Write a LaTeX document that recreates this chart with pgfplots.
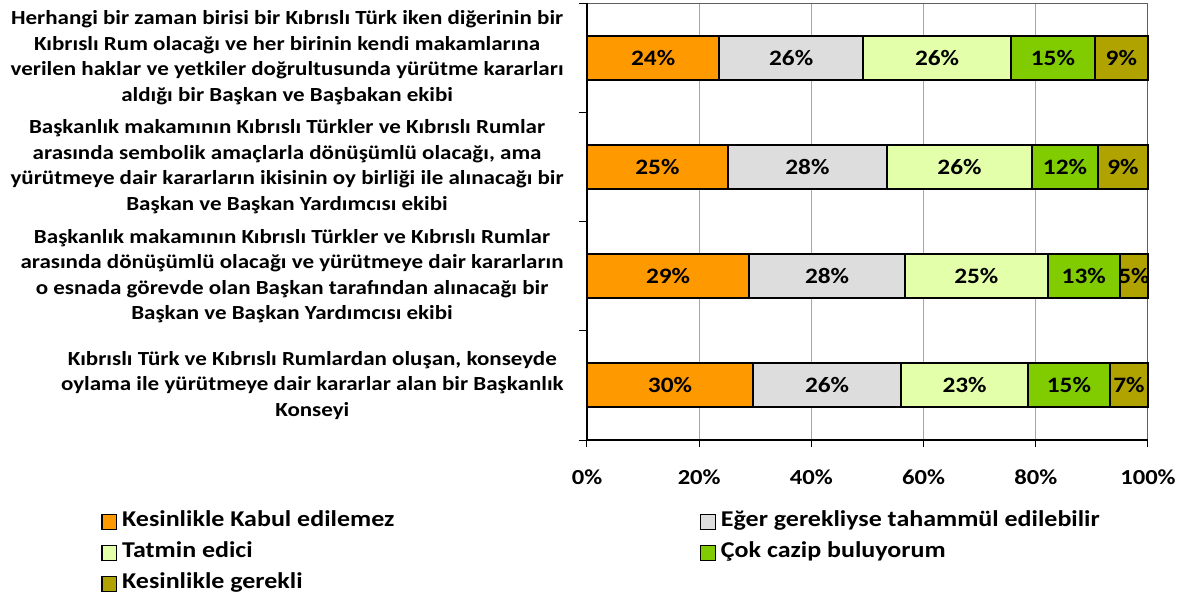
\documentclass[border=0pt]{standalone}
\usepackage{fontspec}
\setmainfont{Carlito}[FakeStretch=1.15]
\usepackage{pgfplots}
\usepackage{pgfplotstable}
\pgfplotsset{compat=1.18}

\definecolor{cOrange}{HTML}{FF9900}
\definecolor{cGray}{HTML}{DDDDDD}
\definecolor{cLight}{HTML}{E3FFAA}
\definecolor{cGreen}{HTML}{80CC00}
\definecolor{cOlive}{HTML}{B0A300}

% segment widths (a..e) and printed labels (la..le)
\pgfplotstableread{
cat a    la b    lb c    lc d    ld e   le
1   23.6 24 25.6 26 26.4 26 14.9 15 9.5 9
2   25.1 25 28.4 28 25.8 26 11.8 12 8.9 9
3   28.9 29 27.8 28 25.4 25 12.9 13 5.0 5
4   29.6 30 26.4 26 22.6 23 14.6 15 6.8 7
}\data

\begin{document}
\begin{tikzpicture}
\useasboundingbox (0,0) rectangle (598pt,298pt);
\begin{axis}[
  at={(293.5pt,78pt)}, anchor=south west,
  scale only axis, width=280.5pt, height=218.5pt,
  xbar stacked, bar width=22pt,
  xmin=0, xmax=100, ymin=0.5, ymax=4.5, y dir=reverse,
  clip=false,
  axis line style={draw=gray!75!black, line width=0.5pt},
  xmajorgrids, grid style={gray!70, line width=0.5pt},
  tick align=outside, major tick length=3.5pt, minor tick length=4pt,
  xtick={0,20,...,100}, xtick pos=bottom,
  xticklabel={\pgfmathprintnumber{\tick}\%},
  /pgf/number format/assume math mode=true,
  xticklabel style={font=\bfseries\fontsize{10.7}{13}\selectfont, yshift=-8pt},
  ytick={1,2,3,4}, ytick pos=left,
  minor ytick={0.5,1.5,2.5,3.5,4.5},
  major y tick style={draw=none},
  minor y tick style={draw=black, line width=0.5pt},
  major x tick style={draw=black, line width=0.5pt},
  yticklabel style={align=center, inner sep=0pt, xshift=-8pt,
    font=\bfseries\fontsize{10}{12.75}\selectfont},
  yticklabels={
    {Herhangi bir zaman birisi bir Kıbrıslı Türk iken diğerinin bir\\Kıbrıslı Rum olacağı ve her birinin kendi makamlarına\\verilen haklar ve yetkiler doğrultusunda yürütme kararları\\aldığı bir Başkan ve Başbakan ekibi},
    {Başkanlık makamının Kıbrıslı Türkler ve Kıbrıslı Rumlar\\arasında sembolik amaçlarla dönüşümlü olacağı, ama\\yürütmeye dair kararların ikisinin oy birliği ile alınacağı bir\\Başkan ve Başkan Yardımcısı ekibi},
    {Başkanlık makamının Kıbrıslı Türkler ve Kıbrıslı Rumlar\\arasında dönüşümlü olacağı ve yürütmeye dair kararların\\o esnada görevde olan Başkan tarafından alınacağı bir\\Başkan ve Başkan Yardımcısı ekibi},
    {Kıbrıslı Türk ve Kıbrıslı Rumlardan oluşan, konseyde\\oylama ile yürütmeye dair kararlar alan bir Başkanlık\\Konseyi}},
  point meta=explicit,
  nodes near coords={\pgfmathprintnumber{\pgfplotspointmeta}\%},
  every node near coord/.append style={anchor=center, inner sep=0pt,
    font=\bfseries\fontsize{11}{13}\selectfont, text=black},
  every axis plot/.append style={draw=black, line width=1pt},
  legend columns=2, legend cell align=left,
  legend style={at={(-0.8663,-0.1513)}, anchor=north west, draw=none, fill=none,
    inner sep=0pt, row sep=0pt,
    font=\bfseries\fontsize{11.3}{13}\selectfont,
    nodes={inner sep=0pt, text height=10pt, text depth=5.5pt},
    /tikz/every odd column/.style={column sep=2.5pt}},
  legend image code/.code={\draw[#1, line width=0.6pt] (0pt,-3.6pt) rectangle (7.3pt,3.6pt);},
]
\addplot[fill=cOrange] table[x=a, y=cat, meta=la] {\data};
\addplot[fill=cGray]   table[x=b, y=cat, meta=lb] {\data};
\addplot[fill=cLight]  table[x=c, y=cat, meta=lc] {\data};
\addplot[fill=cGreen]  table[x=d, y=cat, meta=ld] {\data};
\addplot[fill=cOlive]  table[x=e, y=cat, meta=le] {\data};
\legend{\makebox[289pt][l]{Kesinlikle Kabul edilemez}, Eğer gerekliyse tahammül edilebilir,
  \makebox[289pt][l]{Tatmin edici}, Çok cazip buluyorum,
  \makebox[289pt][l]{Kesinlikle gerekli}}
\draw[black, line width=0.6pt] (axis cs:0,0.5) -- (axis cs:0,4.5) -- (axis cs:100,4.5);
\end{axis}
\end{tikzpicture}
\end{document}
